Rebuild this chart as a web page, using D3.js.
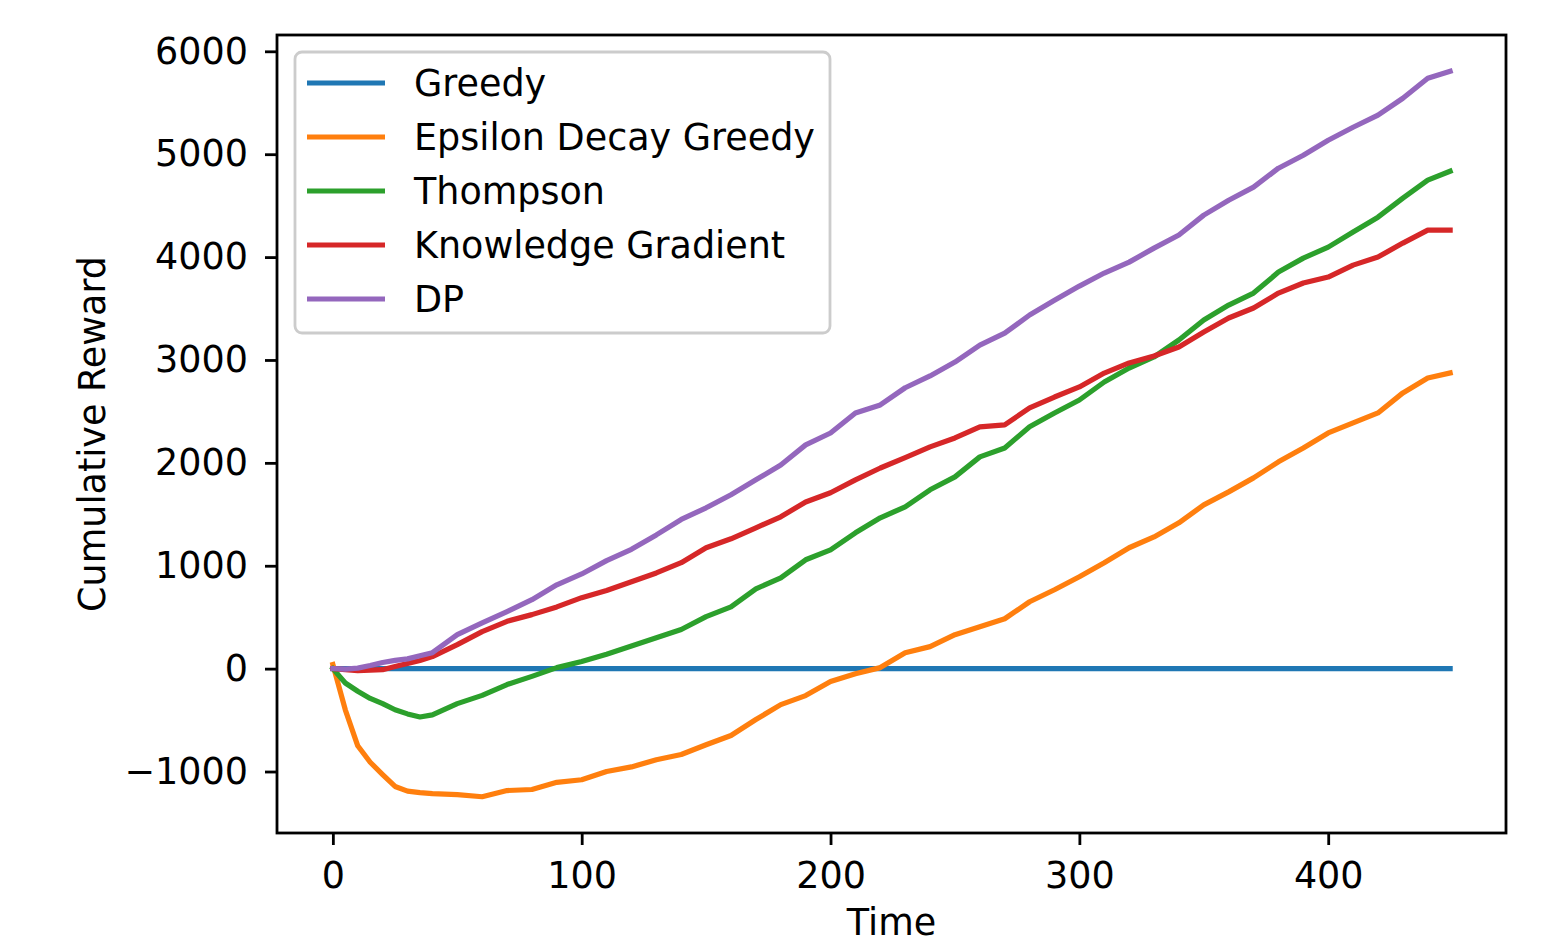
<!DOCTYPE html>
<html lang="en">
<head>
    <meta charset="UTF-8">
    <title>Cumulative Reward</title>

    <style>
    body { margin: 0; background: #fff; }
    text { font-family: "DejaVu Sans", sans-serif; fill: #000; }
    .eje path, .eje line { stroke: #000; stroke-width: 2.8px; }
    .eje text { font-size: 36.5px; }
    .serie { fill: none; stroke-width: 5.2px; stroke-linejoin: round; stroke-linecap: square; }
    </style>

    <script type="text/javascript" src="https://d3js.org/d3.v7.min.js"></script>
</head>
<body>
<script type="text/javascript">

  var tiempos = [0, 5, 10, 15, 20, 25, 30, 35, 40, 50, 60, 70, 80, 90, 100, 110, 120, 130, 140,
                 150, 160, 170, 180, 190, 200, 210, 220, 230, 240, 250, 260, 270, 280, 290, 300,
                 310, 320, 330, 340, 350, 360, 370, 380, 390, 400, 410, 420, 430, 440, 449];

  var nombres = ["Greedy", "Epsilon Decay Greedy", "Thompson", "Knowledge Gradient", "DP"];
  var colores = ["#1f77b4", "#ff7f0e", "#2ca02c", "#d62728", "#9467bd"];

  var greedy = [0, 0, 0, 0, 0, 0, 0, 0, 0, 0, 0, 0, 0, 0, 0, 0, 0, 0, 0,
                0, 0, 0, 0, 0, 0, 0, 0, 0, 0, 0, 0, 0, 0, 0, 0,
                0, 0, 0, 0, 0, 0, 0, 0, 0, 0, 0, 0, 0, 0, 0];

  var epsilon = [40, -400, -750, -910, -1030, -1145, -1190, -1205, -1215, -1225, -1245, -1185, -1175, -1105, -1080, -1000, -955, -885, -835,
                 -740, -650, -495, -350, -262, -126, -50, 10, 155, 214, 330, 408, 485, 650, 767, 893,
                 1030, 1175, 1280, 1417, 1592, 1718, 1854, 2010, 2145, 2291, 2388, 2485, 2680, 2825, 2874];

  var thompson = [0, -140, -220, -290, -340, -400, -440, -470, -450, -340, -260, -155, -75, 10, 70, 140, 220, 300, 380,
                  505, 600, 775, 883, 1058, 1155, 1320, 1466, 1573, 1738, 1864, 2058, 2145, 2350, 2485, 2611,
                  2786, 2922, 3029, 3194, 3388, 3534, 3650, 3854, 3990, 4097, 4243, 4388, 4573, 4748, 4835];

  var gradiente = [0, -10, -20, -15, -10, 20, 50, 80, 117, 233, 360, 460, 525, 600, 690, 760, 845, 930, 1030,
                   1175, 1262, 1369, 1476, 1620, 1710, 1835, 1950, 2050, 2155, 2242, 2350, 2369, 2534, 2640, 2738,
                   2873, 2971, 3039, 3126, 3272, 3408, 3505, 3650, 3748, 3806, 3922, 4000, 4136, 4262, 4262];

  var dp = [0, -5, 5, 30, 60, 80, 95, 125, 155, 330, 445, 555, 670, 815, 920, 1050, 1160, 1300, 1450,
            1563, 1690, 1835, 1980, 2175, 2290, 2485, 2563, 2730, 2845, 2980, 3145, 3260, 3437, 3580, 3718,
            3845, 3951, 4087, 4214, 4408, 4553, 4680, 4864, 4990, 5136, 5262, 5379, 5544, 5738, 5806];

  var ticksX = [0, 100, 200, 300, 400];
  var ticksY = [-1000, 0, 1000, 2000, 3000, 4000, 5000, 6000];

  var series = [greedy, epsilon, thompson, gradiente, dp];

  // Canvas and plot area
  var ancho_svg = 1541,
      alto_svg = 939,
      margen = {izq: 277, der: 35, sup: 35, inf: 106},
      ancho = ancho_svg - margen.izq - margen.der,
      alto = alto_svg - margen.sup - margen.inf;

  // Scales with matplotlib-like 5% margins
  var xMin = d3.min(tiempos), xMax = d3.max(tiempos),
      dx = (xMax - xMin) * 0.05;
  var todos = d3.merge(series),
      yMin = d3.min(todos), yMax = d3.max(todos),
      dy = (yMax - yMin) * 0.05;

  var x = d3.scaleLinear().domain([xMin - dx, xMax + dx]).range([0, ancho]);
  var y = d3.scaleLinear().domain([yMin - dy, yMax + dy]).range([alto, 0]);

  var svg = d3.select("body").append("svg")
              .attr("width", ancho_svg)
              .attr("height", alto_svg);

  var g = svg.append("g")
             .attr("transform", "translate(" + margen.izq + "," + margen.sup + ")");

  var linea = d3.line()
                .x(function(d) { return x(d[0]); })
                .y(function(d) { return y(d[1]); });

  // One path per series
  g.selectAll(".serie")
   .data(series)
   .enter()
   .append("path")
   .attr("class", "serie")
   .attr("stroke", function(d, i) { return colores[i]; })
   .attr("d", function(d) { return linea(d.map(function(v, i) { return [tiempos[i], v]; })); });

  // Axes (plain integers, unicode minus)
  var formato = d3.format("d");

  var ejeX = g.append("g")
              .attr("class", "eje")
              .attr("transform", "translate(0," + alto + ")")
              .call(d3.axisBottom(x).tickValues(ticksX).tickFormat(formato).tickSize(12).tickSizeOuter(0));
  ejeX.select(".domain").remove();
  ejeX.selectAll("text").attr("y", 24).attr("dy", "0.85em");

  var ejeY = g.append("g")
              .attr("class", "eje")
              .call(d3.axisLeft(y).tickValues(ticksY).tickFormat(formato).tickSize(12).tickSizeOuter(0));
  ejeY.select(".domain").remove();
  ejeY.selectAll("text").attr("x", -29);

  // Frame around the plot
  g.append("rect")
   .attr("width", ancho)
   .attr("height", alto)
   .attr("fill", "none")
   .attr("stroke", "#000")
   .attr("stroke-width", 2.8);

  // Axis titles
  svg.append("text")
     .attr("x", margen.izq + ancho / 2)
     .attr("y", 935)
     .attr("text-anchor", "middle")
     .style("font-size", "36.5px")
     .text("Time");

  svg.append("text")
     .attr("transform", "translate(105," + (margen.sup + alto / 2) + ") rotate(-90)")
     .attr("text-anchor", "middle")
     .style("font-size", "36.5px")
     .text("Cumulative Reward");

  // Legend
  var leyenda = g.append("g").attr("transform", "translate(18,17)");

  leyenda.append("rect")
         .attr("width", 535)
         .attr("height", 281)
         .attr("rx", 7)
         .attr("fill", "#fff")
         .attr("fill-opacity", 0.8)
         .attr("stroke", "#cccccc")
         .attr("stroke-width", 2.8);

  var filas = leyenda.selectAll(".fila")
                     .data(nombres)
                     .enter()
                     .append("g")
                     .attr("class", "fila")
                     .attr("transform", function(d, i) { return "translate(0," + (31 + i * 54) + ")"; });

  filas.append("line")
       .attr("x1", 12)
       .attr("x2", 90)
       .attr("stroke", function(d, i) { return colores[i]; })
       .attr("stroke-width", 5.2);

  filas.append("text")
       .attr("x", 119)
       .attr("dy", "0.36em")
       .style("font-size", "36.5px")
       .text(function(d) { return d; });

</script>
</body>
</html>
